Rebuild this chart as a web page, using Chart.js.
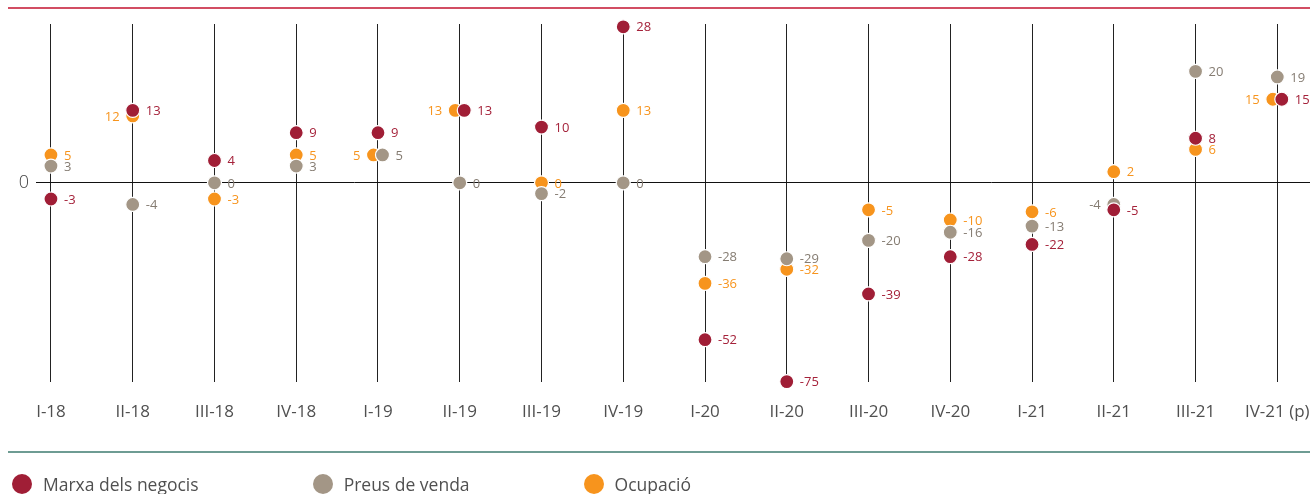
<!DOCTYPE html>
<html lang="ca">
<head>
<meta charset="utf-8">
<title>Indicadors trimestrals</title>
<script src="https://cdn.jsdelivr.net/npm/chart.js@4/dist/chart.umd.min.js"></script>
<style>
  html, body { margin: 0; padding: 0; background: #fff; }
  #wrap { position: relative; width: 1310px; height: 494px; }
  #legend {
    position: absolute; left: 12px; top: 474px;
    display: flex; gap: 114px;
    font-family: "Open Sans", sans-serif; font-weight: 400; font-size: 17.5px; color: #505050;
  }
  #legend .item { display: flex; align-items: center; height: 20px; }
  #legend .dot { width: 20px; height: 20px; border-radius: 50%; margin-right: 11px; }
</style>
</head>
<body>
<div id="wrap">
  <canvas id="quarterChart" width="1310" height="494"></canvas>
  <div id="legend"></div>
</div>
<script>
  const quarters = ['I-18', 'II-18', 'III-18', 'IV-18', 'I-19', 'II-19', 'III-19', 'IV-19',
                    'I-20', 'II-20', 'III-20', 'IV-20', 'I-21', 'II-21', 'III-21', 'IV-21 (p)'];
  const marxaNegocis = [-3, 13, 4, 9, 9, 13, 10, 28, -52, -75, -39, -28, -22, -5, 8, 15];
  const preusVenda   = [3, -4, 0, 3, 5, 0, -2, 0, -28, -29, -20, -16, -13, -4, 20, 19];
  const ocupacio     = [5, 12, -3, 5, 5, 13, 0, 13, -36, -32, -5, -10, -6, 2, 6, 15];

  // Linear scale that bends at a few stops, so the small values near zero keep room
  // while the deep 2020 drop still fits under the plot.
  class StopScale extends Chart.LinearScale {
    _toDecimal(v) {
      const s = this.options.stops;
      for (let i = 1; i < s.length; i++) {
        if (v <= s[i][0] || i === s.length - 1) {
          const [v0, d0] = s[i - 1], [v1, d1] = s[i];
          return d0 + (v - v0) / (v1 - v0) * (d1 - d0);
        }
      }
    }
    getPixelForValue(value) {
      if (value === null || isNaN(value)) return NaN;
      return this.getPixelForDecimal(this._toDecimal(value));
    }
    getValueForPixel(pixel) {
      const d = this.getDecimalForPixel(pixel);
      const s = this.options.stops;
      for (let i = 1; i < s.length; i++) {
        if (d <= s[i][1] || i === s.length - 1) {
          const [v0, d0] = s[i - 1], [v1, d1] = s[i];
          return v0 + (d - d0) / (d1 - d0) * (v1 - v0);
        }
      }
    }
  }
  StopScale.id = 'stops';
  StopScale.defaults = Chart.LinearScale.defaults;
  Chart.register(StopScale);

  // equal values on the same quarter are pushed a little apart
  const series = [marxaNegocis, preusVenda, ocupacio];
  function nudge(s, i) {
    const v = series[s][i];
    const above = series.slice(0, s).some(o => o[i] === v);
    const below = series.slice(s + 1).some(o => o[i] === v);
    if (above) return -0.055;
    if (below) return 0.055;
    return 0;
  }
  const toPoints = s => series[s].map((v, i) => ({ x: i + nudge(s, i), y: v }));

  const valueLabels = {
    id: 'valueLabels',
    afterDatasetsDraw(chart) {
      const ctx = chart.ctx;
      ctx.save();
      ctx.font = '13px "Open Sans", sans-serif';
      ctx.textBaseline = 'middle';
      chart.data.datasets.forEach((ds, d) => {
        chart.getDatasetMeta(d).data.forEach((pt, i) => {
          // a dot sitting under one drawn above it gets its label on the left
          let covered = false;
          for (let u = 0; u < d; u++) {
            const o = chart.getDatasetMeta(u).data[i];
            if (Math.abs(o.x - pt.x) < 10 && Math.abs(o.y - pt.y) < 7) covered = true;
          }
          ctx.fillStyle = ds.labelColor;
          ctx.textAlign = covered ? 'right' : 'left';
          ctx.fillText(String(series[d][i]), pt.x + (covered ? -13 : 13), pt.y + 1);
        });
      });
      ctx.restore();
    }
  };

  const frameLines = {
    id: 'frameLines',
    beforeDraw(chart) {
      const ctx = chart.ctx;
      ctx.save();
      ctx.lineWidth = 1.5;
      ctx.strokeStyle = '#c3132f';
      ctx.beginPath(); ctx.moveTo(8, 8); ctx.lineTo(chart.width, 8); ctx.stroke();
      ctx.strokeStyle = '#3e7b6f';
      ctx.beginPath(); ctx.moveTo(8, 452); ctx.lineTo(chart.width, 452); ctx.stroke();
      ctx.restore();
    }
  };

  const dot = (color) => ({
    pointRadius: 7,
    pointHoverRadius: 7,
    pointBackgroundColor: color,
    pointBorderColor: '#ffffff',
    pointBorderWidth: 1.2,
    backgroundColor: color,
    clip: false
  });

  const ctx = document.getElementById('quarterChart').getContext('2d');
  const quarterChart = new Chart(ctx, {
    type: 'scatter',
    data: {
      datasets: [
        { label: 'Marxa dels negocis', data: toPoints(0), labelColor: '#a5223a', ...dot('#a01e36') },
        { label: 'Preus de venda', data: toPoints(1), labelColor: '#857c72', ...dot('#a39686') },
        { label: 'Ocupació', data: toPoints(2), labelColor: '#f7941d', ...dot('#f7941d') }
      ]
    },
    options: {
      responsive: false,
      animation: false,
      events: [],
      layout: { autoPadding: false, padding: { top: 24, right: 0, bottom: 52, left: 0 } },
      plugins: { legend: { display: false }, tooltip: { enabled: false } },
      scales: {
        x: {
          type: 'linear',
          min: -0.183,
          max: 15.4,
          afterBuildTicks: scale => { scale.ticks = quarters.map((q, i) => ({ value: i })); },
          // the last label may hang over the right edge
          afterFit: scale => { scale.paddingLeft = 0; scale.paddingRight = 0; },
          ticks: {
            callback: v => quarters[v] ?? '',
            autoSkip: false,
            maxRotation: 0,
            padding: 20,
            color: '#505050',
            font: { family: '"Open Sans", sans-serif', size: 17, weight: 400 }
          },
          grid: { color: '#222', lineWidth: 1, drawTicks: false },
          border: { display: false }
        },
        y: {
          type: 'stops',
          min: -75,
          max: 28.5,
          stops: [[-75, 0], [-52, 0.1173], [-29, 0.3436], [-5, 0.4804], [0, 0.5559], [28.5, 1]],
          afterBuildTicks: scale => { scale.ticks = [{ value: 0 }]; },
          afterFit: scale => { scale.width = 36; },
          ticks: {
            padding: 7,
            color: '#444',
            font: { family: '"Open Sans", sans-serif', size: 18, weight: 300 }
          },
          grid: { color: '#111', lineWidth: 1, drawTicks: false },
          border: { display: false }
        }
      }
    },
    plugins: [frameLines, valueLabels]
  });

  // legend below the chart
  const legend = document.getElementById('legend');
  quarterChart.data.datasets.forEach(ds => {
    const item = document.createElement('div');
    item.className = 'item';
    const sw = document.createElement('span');
    sw.className = 'dot';
    sw.style.background = ds.pointBackgroundColor;
    const txt = document.createElement('span');
    txt.textContent = ds.label;
    item.append(sw, txt);
    legend.appendChild(item);
  });
</script>
</body>
</html>
